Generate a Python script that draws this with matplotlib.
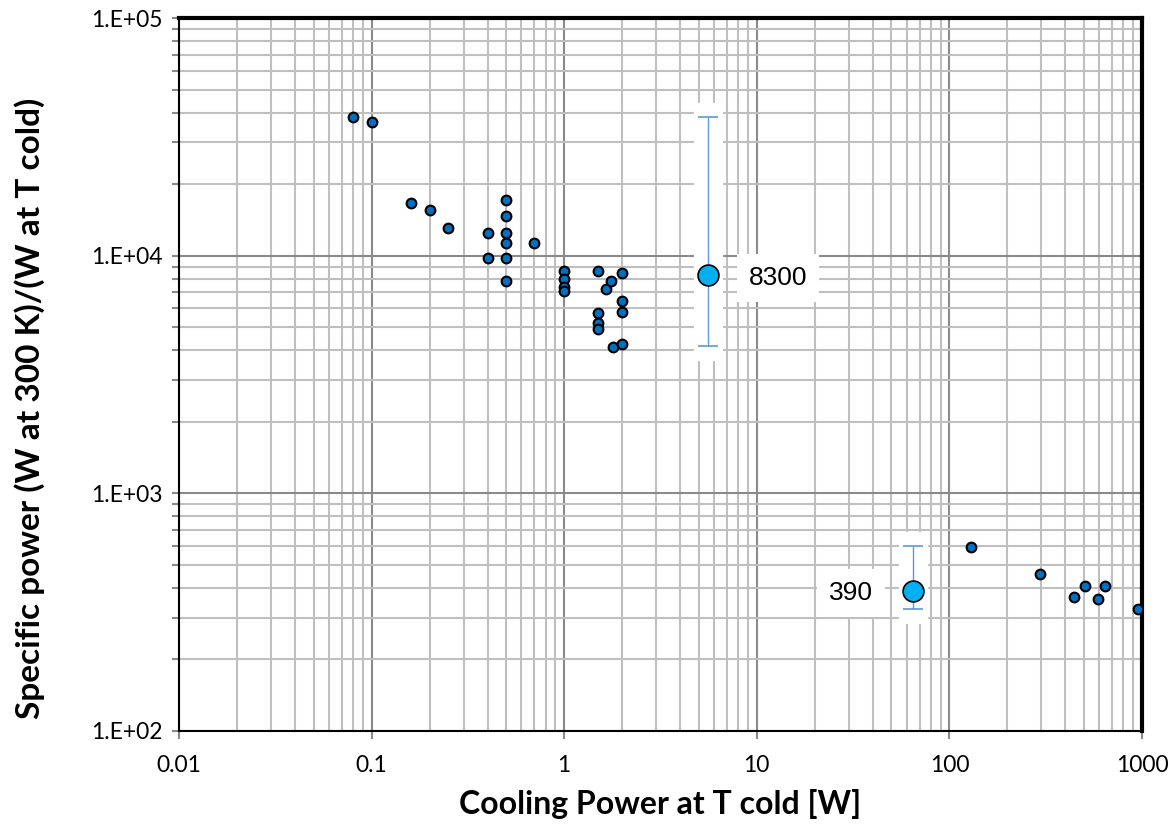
import numpy as np
import matplotlib
matplotlib.use("Agg")
import matplotlib.pyplot as plt
from matplotlib.ticker import LogLocator, FuncFormatter, NullFormatter

# measured cryocoolers: cooling power [W] vs specific power
cool_w = [0.08, 0.1, 0.16, 0.2, 0.25, 0.4, 0.4,
          0.5, 0.5, 0.5, 0.5, 0.5, 0.5, 0.7,
          1.0, 1.0, 1.0, 1.0,
          1.5, 1.5, 1.5, 1.5, 1.65, 1.75, 1.8,
          2.0, 2.0, 2.0, 2.0,
          130, 295, 445, 505, 590, 645, 955]
spec_pw = [38400, 36500, 16700, 15600, 13100, 12400, 9750,
           17100, 14700, 12400, 11300, 9750, 7830, 11300,
           8600, 8000, 7400, 7100,
           8600, 5720, 5200, 4920, 7240, 7830, 4140,
           8430, 6440, 5810, 4250,
           597, 458, 366, 406, 358, 406, 325]

# averaged values with spread
avg_x = [5.6, 65]
avg_y = [8300, 390]
avg_lo = [4170, 326]
avg_hi = [38200, 603]
avg_lbl = ["8300", "390"]
lbl_dx = [50, -45]

fig = plt.figure(figsize=(11.74, 8.27), dpi=100)
ax = fig.add_axes([0.1525, 0.1161, 0.8202, 0.8621])
ax.set_xscale("log")
ax.set_yscale("log")
ax.set_xlim(0.01, 1000)
ax.set_ylim(100, 100000)

ax.set_axisbelow(True)
ax.grid(which="minor", color="#BFBFBF", lw=1.5)
ax.grid(which="major", color="#8A8A8A", lw=1.5)

ax.xaxis.set_minor_locator(LogLocator(base=10, subs=np.arange(2, 10)))
ax.yaxis.set_minor_locator(LogLocator(base=10, subs=np.arange(2, 10)))
ax.xaxis.set_minor_formatter(NullFormatter())
ax.yaxis.set_minor_formatter(NullFormatter())
ax.xaxis.set_major_formatter(FuncFormatter(lambda v, p: "%g" % v))
ax.yaxis.set_major_formatter(FuncFormatter(lambda v, p: "1.E+%02d" % round(np.log10(v))))
ax.tick_params(axis="x", which="major", length=6, width=1.5, color="#8A8A8A",
               labelsize=16.5, pad=11)
ax.tick_params(axis="x", which="minor", length=0)
ax.tick_params(axis="y", which="both", length=5, width=1.5, color="#8A8A8A",
               labelsize=16.5, pad=7)
for lb in ax.get_xticklabels() + ax.get_yticklabels():
    lb.set_fontfamily("Lato")

for s in ["top", "right"]:
    ax.spines[s].set_linewidth(3)
for s in ["left", "bottom"]:
    ax.spines[s].set_linewidth(1.5)

ax.plot(cool_w, spec_pw, "o", ms=7, mfc="#0070C0", mec="black", mew=1.5, zorder=3)

for x, y, lo, hi, t, dx in zip(avg_x, avg_y, avg_lo, avg_hi, avg_lbl, lbl_dx):
    ax.plot([x, x], [lo, hi], color="white", lw=21, solid_capstyle="projecting", zorder=1)
    ax.errorbar([x], [y], yerr=[[y - lo], [hi - y]], fmt="o", ms=15,
                mfc="#00B0F0", mec="black", mew=1.2, ecolor="#5B9BD5",
                elinewidth=1, capsize=7.2, capthick=1, zorder=4)
    ax.annotate(t, (x, y), xytext=(dx, -2), textcoords="offset points",
                ha="center", va="center", fontsize=19, family="Liberation Sans",
                bbox=dict(boxstyle="square,pad=0.45", fc="white", ec="none"), zorder=5)

ax.set_xlabel("Cooling Power at T cold [W]", fontsize=23, fontweight="bold",
              family="Lato", labelpad=10)
ax.set_ylabel("Specific power (W at 300 K)/(W at T cold)", fontsize=24,
              fontweight="bold", family="Lato")
ax.yaxis.set_label_coords(-0.139, 0.452)

fig.savefig("out.png", dpi=100)
